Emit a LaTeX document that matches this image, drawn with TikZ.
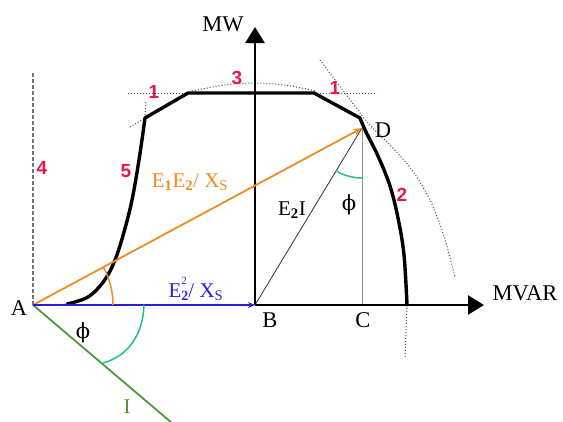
\documentclass[tikz,border=0pt]{standalone}
\usepackage{fontspec}
\setmainfont{Liberation Serif}
\newfontfamily\numfont{Liberation Sans}
\newfontfamily\phifont{DejaVu Serif}
\usetikzlibrary{arrows.meta}
\definecolor{redlab}{HTML}{E8174A}
\definecolor{orangeln}{HTML}{F08A24}
\definecolor{blueln}{HTML}{2A1FD8}
\definecolor{greenln}{HTML}{4E9A3A}
\definecolor{tealarc}{HTML}{22C08A}
\newcommand{\phisym}{{\phifont ϕ}}
\newcommand{\subtwo}{\raisebox{-3pt}{\fontsize{14}{14}\selectfont\bfseries 2}}
\newcommand{\suptwo}{\raisebox{13pt}{\fontsize{11}{11}\selectfont 2}}
\begin{document}
\begin{tikzpicture}[x=1pt,y=-1pt,
  lab/.style={inner sep=0pt, font=\fontsize{22.5}{25}\selectfont},
  elab/.style={inner sep=0pt, font=\fontsize{21}{24}\selectfont},
  num/.style={inner sep=0pt, text=redlab, font=\numfont\bfseries\fontsize{19}{21}\selectfont},
  curve/.style={line width=3.4pt, line cap=round, line join=round},
  axis/.style={line width=2.8pt, -{Triangle[length=16pt,width=19pt]}},
  guide/.style={dotted, line width=1pt, black!70},
]
\useasboundingbox (0,0) rectangle (563,421);
% points
\coordinate (A) at (33,305);
\coordinate (B) at (255,305);
\coordinate (D) at (362,128);
\coordinate (C) at (362,305);
\coordinate (Xend) at (484,305);
\coordinate (Yend) at (255,27);
\coordinate (Iend) at (172,423);
\coordinate (Ktop) at (33,72);
\coordinate (K1) at (145,118);
\coordinate (K2) at (188,93);
\coordinate (K3) at (314,93);
\coordinate (K4) at (360,118);
\coordinate (K5) at (407,305);

% guide lines
\draw[black!55, dashed, line width=1.4pt, dash pattern=on 4pt off 2pt] (A) -- (Ktop);
\draw[guide] (128,93) -- (K2);
\draw[guide] (130,127) -- (K1);
\draw[guide] (K1) -- (146,102);
\draw[guide] (K3) -- (377,93);
\draw[guide] plot[smooth] coordinates {(192,91) (225,85) (255,83) (285,85) (316,91)};
\draw[guide] plot[smooth] coordinates {(320,60) (345,93) (368,123) (390,145) (412,170) (430,200) (444,236) (455,277)};
\draw[guide] (K5) -- (405,357);

% thin lines
\draw[black!45, line width=0.9pt] (C) -- (D);
\draw[black!75, line width=0.9pt] (B) -- (D);

% axes
\draw[axis] (B) -- (Xend);
\draw[axis] (B) -- (Yend);

% capability curve
\draw[curve] plot[smooth, tension=0.6] coordinates {(67,304) (88,297) (104,281) (115,260) (124,232) (132,200) (139,160) (K1)} -- (K2) -- (K3) -- (K4);
\draw[curve] plot[smooth, tension=0.6] coordinates {(K4) (366,132) (378,156) (390,186) (398,218) (404,255) (K5)};

% phasors
\draw[greenln, line width=1.8pt] (A) -- (Iend);
\draw[orangeln, line width=1.8pt, -{Stealth[length=9pt,width=7pt]}] (A) -- (D);
\draw[blueln, line width=1.8pt, -{Stealth[length=7pt,width=6pt]}] (A) -- (B);

% angle arcs
\draw[orangeln, line width=1.5pt] (113,305) arc[start angle=0, end angle=28.3, radius=80pt];
\draw[tealarc, line width=1.5pt] (144,305) .. controls (143,335) and (128,356) .. (103,363);
\draw[tealarc, line width=1.5pt] (D) ++(238.8:50pt) arc[start angle=238.8, end angle=270, radius=50pt];

% labels
\node[lab] (lA) at (19,308) {A};
\node[lab] (lB) at (270,320) {B};
\node[lab] (lC) at (363,320) {C};
\node[lab] (lD) at (383,130) {D};
\node[lab] (lMW) at (223,24) {MW};
\node[lab] (lMVAR) at (525,293) {MVAR};
\node[num] (n1a) at (154,92) {1};
\node[num] (n3) at (237,78) {3};
\node[num] (n1b) at (335,88) {1};
\node[num] (n5) at (126,171) {5};
\node[num] (n2) at (402,195) {2};
\node[num] (n4) at (42,168) {4};
\node[elab, text=orangeln] (lE1E2) at (190,182) {E\textsubscript{\textbf{1}}E\textsubscript{\textbf{2}}/ X\textsubscript{S}};
\node[elab, text=blueln, anchor=base] (lE22) at (196,297) {E\rlap{\suptwo}\subtwo/ X\textsubscript{S}};
\node[elab] (lE2I) at (292,210) {E\textsubscript{\textbf{2}}I};
\node[elab] (lphiD) at (349,205) {\phisym};
\node[elab] (lphiA) at (83,333) {\phisym};
\node[elab, text=greenln] (lI) at (127,407) {I};
\end{tikzpicture}
\end{document}
